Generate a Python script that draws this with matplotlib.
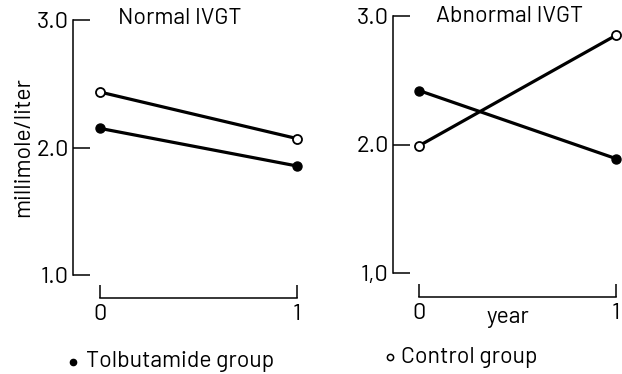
import matplotlib
matplotlib.use("Agg")
import matplotlib.pyplot as plt
from matplotlib.lines import Line2D

# ── data ──
years = [0, 1]
normal_tolb = [2.15, 1.855]
normal_ctrl = [2.435, 2.07]
abnormal_tolb = [2.42, 1.89]
abnormal_ctrl = [1.99, 2.85]
yticks = [1.0, 2.0, 3.0]
left_ylabels = ["1.0", "2.0", "3.0"]
right_ylabels = ["1,0", "2.0", "3.0"]
xticks = [0, 1]
xticklabels = ["0", "1"]

W, H = 622, 374
FS = 17      # tick labels
TFS = 16.5   # titles, axis label, legend
plt.rcParams["font.family"] = ["Barlow", "Roboto", "DejaVu Sans"]

fig = plt.figure(figsize=(W / 100, H / 100), dpi=100)


def px_axes(x0, x1, ytop, ybot):
    return fig.add_axes([x0 / W, (H - ybot) / H, (x1 - x0) / W, (ybot - ytop) / H])


def style(ax, xmin, xmax, ylabels, outward):
    ax.set_xlim(xmin, xmax)
    ax.set_ylim(1.0, 3.0)
    ax.patch.set_alpha(0)
    for s in ("top", "right"):
        ax.spines[s].set_visible(False)
    ax.spines["left"].set_bounds(1.0, 3.0)
    ax.spines["bottom"].set_bounds(0, 1)
    ax.spines["bottom"].set_position(("outward", outward))
    for s in ("left", "bottom"):
        ax.spines[s].set_linewidth(1.1)
    ax.set_yticks(yticks)
    ax.set_yticklabels(ylabels)
    ax.set_xticks(xticks)
    ax.set_xticklabels(xticklabels)
    ax.tick_params(axis="y", direction="in", length=12, width=1.1, pad=3, labelsize=FS)
    ax.tick_params(axis="x", direction="in", length=9.4, width=1.1, pad=4, labelsize=FS)


def draw(ax, tolb, ctrl):
    ax.plot(years, ctrl, "-", color="black", lw=2.3, marker="o", ms=6.5,
            mfc="white", mec="black", mew=1.3, clip_on=False, zorder=3)
    ax.plot(years, tolb, "-", color="black", lw=2.3, marker="o", ms=6.5,
            mfc="black", mec="black", clip_on=False, zorder=3)


# left panel: spine at px 73, x=0 at px 100, x=1 at px 297
axL = px_axes(73, 305, 20, 275)
style(axL, (73 - 100) / 197, (305 - 100) / 197, left_ylabels, 16.6)
draw(axL, normal_tolb, normal_ctrl)
axL.set_ylabel("millimole/liter", fontsize=TFS, labelpad=2)

# right panel: spine at px 393, x=0 at px 419, x=1 at px 616
axR = px_axes(393, 622, 16, 273)
style(axR, (393 - 419) / 197, (622 - 419) / 197, right_ylabels, 17.3)
draw(axR, abnormal_tolb, abnormal_ctrl)
axR.text(0.45, -0.172, "year", transform=axR.get_xaxis_transform(),
         ha="center", va="center", fontsize=TFS)

fig.text(180 / W, 1 - 18 / H, "Normal IVGT", ha="center", va="center", fontsize=TFS)
fig.text(510 / W, 1 - 17 / H, "Abnormal IVGT", ha="center", va="center", fontsize=TFS)

# legend entries
fig.add_artist(Line2D([73 / W], [1 - 362 / H], marker="o", ms=4.5, mfc="black",
                      mec="black", ls="none", transform=fig.transFigure))
fig.text(86 / W, 1 - 362 / H, "Tolbutamide group", ha="left", va="center", fontsize=TFS)
fig.add_artist(Line2D([390 / W], [1 - 357 / H], marker="o", ms=4.5, mfc="white",
                      mec="black", mew=1.1, ls="none", transform=fig.transFigure))
fig.text(401 / W, 1 - 357 / H, "Control group", ha="left", va="center", fontsize=TFS)

fig.savefig("out.png", dpi=100)
